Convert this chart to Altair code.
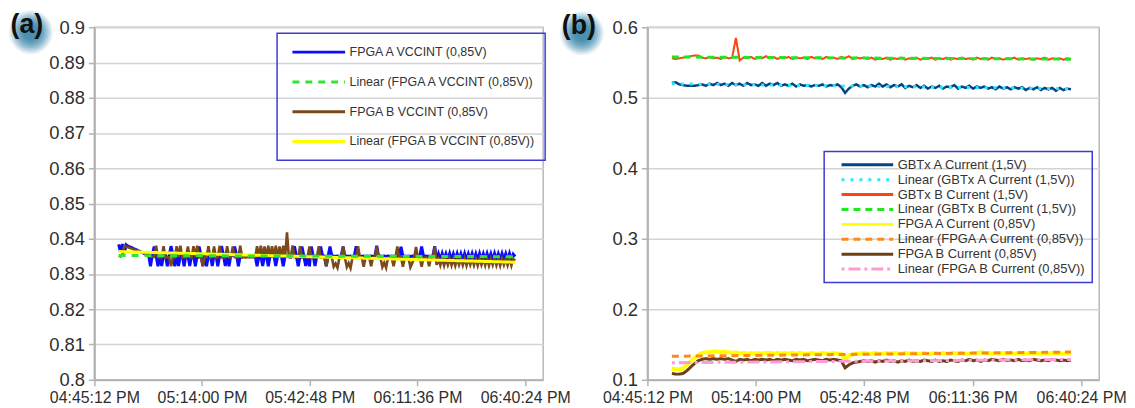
import altair as alt
import numpy as np
import pandas as pd

# ---------------- data ----------------
# sample instants, minutes after 04:45:12 PM
times_a_min = [
    6.5, 7.0, 7.5, 8.0, 8.5, 9.0, 9.5, 10.0, 10.5, 11.0,
    11.5, 12.0, 12.5, 13.0, 13.5, 14.0, 14.5, 15.0, 15.5, 16.0,
    16.5, 17.0, 17.5, 18.0, 18.5, 19.0, 19.5, 20.0, 20.5, 21.0,
    21.5, 22.0, 22.5, 23.0, 23.5, 24.0, 24.5, 25.0, 25.5, 26.0,
    26.5, 27.0, 27.5, 28.0, 28.5, 29.0, 29.5, 30.0, 30.5, 31.0,
    31.5, 32.0, 32.5, 33.0, 33.5, 34.0, 34.5, 35.0, 35.5, 36.0,
    36.5, 37.0, 37.5, 38.0, 38.5, 39.0, 39.5, 40.0, 40.5, 41.0,
    41.5, 42.0, 42.5, 43.0, 43.5, 44.0, 44.5, 45.0, 45.5, 46.0,
    46.5, 47.0, 47.5, 48.0, 48.5, 49.0, 49.5, 50.0, 50.5, 51.0,
    51.5, 52.0, 52.5, 53.0, 53.5, 54.0, 54.5, 55.0, 55.5, 56.0,
    56.5, 57.0, 57.5, 58.0, 58.5, 59.0, 59.5, 60.0, 60.5, 61.0,
    61.5, 62.0, 62.5, 63.0, 63.5, 64.0, 64.5, 65.0, 65.5, 66.0,
    66.5, 67.0, 67.5, 68.0, 68.5, 69.0, 69.5, 70.0, 70.5, 71.0,
    71.5, 72.0, 72.5, 73.0, 73.5, 74.0, 74.5, 75.0, 75.5, 76.0,
    76.5, 77.0, 77.5, 78.0, 78.5, 79.0, 79.5, 80.0, 80.5, 81.0,
    81.5, 82.0, 82.5, 83.0, 83.5, 84.0, 84.5, 85.0, 85.5, 86.0,
    86.5, 87.0, 87.5, 88.0, 88.5, 89.0, 89.5, 90.0, 90.5, 91.0,
    91.5, 92.0, 92.5, 93.0, 93.5, 94.0, 94.5, 95.0, 95.5, 96.0,
    96.5, 97.0, 97.5, 98.0, 98.5, 99.0, 99.5, 100.0, 100.5, 101.0,
    101.5, 102.0, 102.5, 103.0, 103.5, 104.0, 104.5, 105.0, 105.5, 106.0,
    106.5, 107.0, 107.5, 108.0, 108.5, 109.0, 109.5, 110.0, 110.5, 111.0,
    111.5, 112.0, 112.5,
]
times_b_min = [
    6.5, 7.5, 8.5, 9.5, 10.5, 11.5, 12.5, 13.5, 14.5, 15.5,
    16.5, 17.5, 18.5, 19.5, 20.5, 21.5, 22.5, 23.5, 24.5, 25.5,
    26.5, 27.5, 28.5, 29.5, 30.5, 31.5, 32.5, 33.5, 34.5, 35.5,
    36.5, 37.5, 38.5, 39.5, 40.5, 41.5, 42.5, 43.5, 44.5, 45.5,
    46.5, 47.5, 48.5, 49.5, 50.5, 51.5, 52.5, 53.5, 54.5, 55.5,
    56.5, 57.5, 58.5, 59.5, 60.5, 61.5, 62.5, 63.5, 64.5, 65.5,
    66.5, 67.5, 68.5, 69.5, 70.5, 71.5, 72.5, 73.5, 74.5, 75.5,
    76.5, 77.5, 78.5, 79.5, 80.5, 81.5, 82.5, 83.5, 84.5, 85.5,
    86.5, 87.5, 88.5, 89.5, 90.5, 91.5, 92.5, 93.5, 94.5, 95.5,
    96.5, 97.5, 98.5, 99.5, 100.5, 101.5, 102.5, 103.5, 104.5, 105.5,
    106.5, 107.5, 108.5, 109.5, 110.5, 111.5, 112.5,
]

tick_minutes = [0, 28.8, 57.6, 86.4, 115.2]
tick_labels = ["04:45:12 PM", "05:14:00 PM", "05:42:48 PM", "06:11:36 PM", "06:40:24 PM"]

# panel (a): VCCINT voltages
a_fpga_a_vccint = [
    0.8384, 0.8362, 0.8385, 0.8360, 0.8383, 0.8379, 0.8377, 0.8375, 0.8372, 0.8370,
    0.8367, 0.8365, 0.8362, 0.8360, 0.8357, 0.8355, 0.8354, 0.8322, 0.8354, 0.8378,
    0.8353, 0.8322, 0.8354, 0.8323, 0.8353, 0.8354, 0.8322, 0.8353, 0.8379, 0.8354,
    0.8322, 0.8353, 0.8323, 0.8354, 0.8353, 0.8322, 0.8354, 0.8353, 0.8323, 0.8354,
    0.8353, 0.8322, 0.8354, 0.8378, 0.8353, 0.8323, 0.8354, 0.8322, 0.8353, 0.8354,
    0.8323, 0.8353, 0.8354, 0.8322, 0.8353, 0.8379, 0.8354, 0.8323, 0.8353, 0.8322,
    0.8354, 0.8353, 0.8378, 0.8354, 0.8322, 0.8353, 0.8352, 0.8351, 0.8352, 0.8351,
    0.8352, 0.8351, 0.8352, 0.8351, 0.8322, 0.8352, 0.8351, 0.8323, 0.8352, 0.8351,
    0.8322, 0.8352, 0.8351, 0.8352, 0.8323, 0.8351, 0.8352, 0.8351, 0.8322, 0.8352,
    0.8351, 0.8352, 0.8351, 0.8352, 0.8379, 0.8351, 0.8322, 0.8352, 0.8378, 0.8351,
    0.8323, 0.8352, 0.8322, 0.8378, 0.8351, 0.8323, 0.8352, 0.8351, 0.8378, 0.8352,
    0.8351, 0.8322, 0.8351, 0.8378, 0.8350, 0.8351, 0.8350, 0.8351, 0.8350, 0.8351,
    0.8378, 0.8350, 0.8351, 0.8350, 0.8351, 0.8350, 0.8351, 0.8379, 0.8350, 0.8351,
    0.8350, 0.8351, 0.8350, 0.8351, 0.8350, 0.8351, 0.8350, 0.8351, 0.8380, 0.8350,
    0.8351, 0.8350, 0.8351, 0.8350, 0.8351, 0.8350, 0.8351, 0.8350, 0.8351, 0.8350,
    0.8351, 0.8377, 0.8350, 0.8351, 0.8350, 0.8351, 0.8350, 0.8351, 0.8350, 0.8351,
    0.8350, 0.8351, 0.8378, 0.8350, 0.8351, 0.8350, 0.8351, 0.8350, 0.8351, 0.8379,
    0.8340, 0.8357, 0.8339, 0.8358, 0.8341, 0.8357, 0.8340, 0.8358, 0.8339, 0.8357,
    0.8341, 0.8358, 0.8340, 0.8357, 0.8339, 0.8358, 0.8340, 0.8357, 0.8341, 0.8358,
    0.8340, 0.8357, 0.8339, 0.8358, 0.8340, 0.8357, 0.8341, 0.8358, 0.8340, 0.8357,
    0.8339, 0.8358, 0.8340, 0.8357, 0.8341, 0.8358, 0.8340, 0.8357, 0.8339, 0.8358,
    0.8340, 0.8356, 0.8350,
]
a_fpga_b_vccint = [
    0.8352, 0.8350, 0.8355, 0.8380, 0.8378, 0.8376, 0.8374, 0.8372, 0.8370, 0.8368,
    0.8366, 0.8364, 0.8362, 0.8360, 0.8358, 0.8356, 0.8352, 0.8350, 0.8349, 0.8348,
    0.8380, 0.8348, 0.8347, 0.8348, 0.8379, 0.8347, 0.8348, 0.8347, 0.8322, 0.8348,
    0.8347, 0.8379, 0.8348, 0.8380, 0.8347, 0.8348, 0.8347, 0.8378, 0.8348, 0.8347,
    0.8379, 0.8348, 0.8380, 0.8347, 0.8348, 0.8322, 0.8347, 0.8348, 0.8379, 0.8347,
    0.8348, 0.8378, 0.8347, 0.8348, 0.8380, 0.8347, 0.8348, 0.8347, 0.8379, 0.8348,
    0.8347, 0.8378, 0.8348, 0.8347, 0.8348, 0.8380, 0.8347, 0.8348, 0.8347, 0.8348,
    0.8347, 0.8348, 0.8347, 0.8348, 0.8379, 0.8348, 0.8380, 0.8347, 0.8378, 0.8348,
    0.8380, 0.8347, 0.8379, 0.8348, 0.8380, 0.8347, 0.8378, 0.8348, 0.8380, 0.8347,
    0.8418, 0.8348, 0.8347, 0.8381, 0.8348, 0.8347, 0.8348, 0.8379, 0.8347, 0.8348,
    0.8347, 0.8348, 0.8378, 0.8347, 0.8348, 0.8347, 0.8348, 0.8379, 0.8347, 0.8348,
    0.8347, 0.8322, 0.8347, 0.8348, 0.8347, 0.8321, 0.8330, 0.8318, 0.8346, 0.8347,
    0.8378, 0.8346, 0.8320, 0.8331, 0.8317, 0.8346, 0.8347, 0.8346, 0.8379, 0.8346,
    0.8347, 0.8321, 0.8346, 0.8347, 0.8346, 0.8322, 0.8347, 0.8346, 0.8378, 0.8347,
    0.8346, 0.8320, 0.8332, 0.8318, 0.8346, 0.8347, 0.8346, 0.8322, 0.8346, 0.8378,
    0.8346, 0.8347, 0.8321, 0.8346, 0.8347, 0.8346, 0.8319, 0.8331, 0.8346, 0.8377,
    0.8346, 0.8347, 0.8321, 0.8346, 0.8347, 0.8346, 0.8322, 0.8346, 0.8347, 0.8378,
    0.8326, 0.8343, 0.8325, 0.8344, 0.8324, 0.8343, 0.8326, 0.8344, 0.8325, 0.8343,
    0.8324, 0.8344, 0.8326, 0.8343, 0.8325, 0.8344, 0.8324, 0.8343, 0.8326, 0.8344,
    0.8325, 0.8343, 0.8324, 0.8344, 0.8326, 0.8343, 0.8325, 0.8344, 0.8324, 0.8343,
    0.8326, 0.8344, 0.8325, 0.8343, 0.8324, 0.8344, 0.8326, 0.8343, 0.8325, 0.8344,
    0.8324, 0.8343, 0.8338,
]

# panel (b): currents
b_gbtx_a = [
    0.521, 0.522, 0.519, 0.518, 0.517, 0.517, 0.517, 0.518, 0.519, 0.517,
    0.520, 0.518, 0.521, 0.518, 0.520, 0.517, 0.521, 0.518, 0.520, 0.517,
    0.521, 0.518, 0.519, 0.517, 0.521, 0.517, 0.520, 0.518, 0.521, 0.517,
    0.519, 0.517, 0.520, 0.516, 0.519, 0.517, 0.518, 0.516, 0.518, 0.517,
    0.519, 0.516, 0.518, 0.517, 0.519, 0.515, 0.507, 0.513, 0.517, 0.519,
    0.516, 0.518, 0.515, 0.518, 0.516, 0.520, 0.516, 0.519, 0.515, 0.518,
    0.516, 0.519, 0.514, 0.517, 0.515, 0.518, 0.514, 0.517, 0.513, 0.516,
    0.514, 0.517, 0.513, 0.516, 0.515, 0.518, 0.513, 0.516, 0.514, 0.517,
    0.513, 0.516, 0.514, 0.516, 0.513, 0.515, 0.512, 0.516, 0.513, 0.515,
    0.512, 0.515, 0.513, 0.515, 0.511, 0.514, 0.512, 0.515, 0.511, 0.514,
    0.512, 0.514, 0.510, 0.514, 0.511, 0.513, 0.512,
]
b_gbtx_b = [
    0.556, 0.555, 0.556, 0.557, 0.558, 0.559, 0.560, 0.560, 0.557, 0.556,
    0.558, 0.556, 0.557, 0.555, 0.558, 0.556, 0.557, 0.585, 0.553, 0.557,
    0.556, 0.558, 0.555, 0.557, 0.556, 0.559, 0.556, 0.558, 0.555, 0.557,
    0.556, 0.558, 0.555, 0.557, 0.556, 0.557, 0.555, 0.558, 0.556, 0.557,
    0.555, 0.558, 0.556, 0.557, 0.555, 0.558, 0.556, 0.559, 0.555, 0.557,
    0.556, 0.557, 0.555, 0.557, 0.554, 0.556, 0.555, 0.557, 0.554, 0.556,
    0.555, 0.557, 0.554, 0.556, 0.555, 0.557, 0.554, 0.556, 0.555, 0.557,
    0.554, 0.556, 0.555, 0.557, 0.554, 0.556, 0.555, 0.557, 0.555, 0.556,
    0.554, 0.557, 0.555, 0.556, 0.554, 0.557, 0.555, 0.556, 0.554, 0.556,
    0.555, 0.557, 0.554, 0.556, 0.555, 0.556, 0.554, 0.556, 0.555, 0.557,
    0.554, 0.556, 0.555, 0.556, 0.554, 0.556, 0.555,
]
b_fpga_a = [
    0.116, 0.115, 0.115, 0.116, 0.121, 0.126, 0.131, 0.135, 0.138, 0.139,
    0.139, 0.140, 0.140, 0.139, 0.140, 0.139, 0.138, 0.139, 0.137, 0.138,
    0.137, 0.138, 0.137, 0.138, 0.137, 0.138, 0.138, 0.137, 0.138, 0.137,
    0.138, 0.137, 0.138, 0.137, 0.138, 0.137, 0.137, 0.138, 0.137, 0.137,
    0.138, 0.137, 0.137, 0.138, 0.137, 0.137, 0.129, 0.134, 0.136, 0.137,
    0.137, 0.138, 0.137, 0.137, 0.138, 0.137, 0.137, 0.138, 0.137, 0.138,
    0.137, 0.137, 0.138, 0.137, 0.138, 0.137, 0.137, 0.138, 0.137, 0.137,
    0.138, 0.137, 0.138, 0.137, 0.137, 0.138, 0.137, 0.138, 0.137, 0.137,
    0.138, 0.138, 0.139, 0.138, 0.138, 0.137, 0.138, 0.137, 0.138, 0.137,
    0.138, 0.137, 0.138, 0.137, 0.137, 0.138, 0.137, 0.138, 0.137, 0.138,
    0.137, 0.138, 0.137, 0.138, 0.137, 0.138, 0.137,
]
b_fpga_b = [
    0.109, 0.108, 0.108, 0.109, 0.113, 0.118, 0.123, 0.127, 0.129, 0.130,
    0.129, 0.130, 0.129, 0.130, 0.129, 0.130, 0.128, 0.126, 0.129, 0.128,
    0.129, 0.127, 0.129, 0.128, 0.129, 0.128, 0.129, 0.127, 0.129, 0.128,
    0.129, 0.128, 0.127, 0.129, 0.128, 0.129, 0.127, 0.128, 0.129, 0.128,
    0.127, 0.129, 0.128, 0.129, 0.128, 0.127, 0.117, 0.121, 0.124, 0.125,
    0.126, 0.127, 0.126, 0.127, 0.125, 0.127, 0.126, 0.128, 0.126, 0.127,
    0.125, 0.127, 0.126, 0.128, 0.126, 0.127, 0.126, 0.128, 0.127, 0.126,
    0.128, 0.126, 0.127, 0.126, 0.128, 0.127, 0.126, 0.128, 0.127, 0.129,
    0.127, 0.128, 0.126, 0.128, 0.127, 0.129, 0.128, 0.127, 0.129, 0.127,
    0.128, 0.127, 0.129, 0.127, 0.128, 0.127, 0.129, 0.128, 0.127, 0.128,
    0.127, 0.129, 0.128, 0.127, 0.128, 0.127, 0.128,
]

a_raw_names = ["FPGA A VCCINT (0,85V)", "FPGA B VCCINT (0,85V)"]
a_legend_names = [
    "FPGA A VCCINT (0,85V)", "Linear (FPGA A VCCINT (0,85V))",
    "FPGA B VCCINT (0,85V)", "Linear (FPGA B VCCINT (0,85V))",
]
b_raw_names = ["GBTx A Current (1,5V)", "GBTx B Current (1,5V)",
               "FPGA A Current (0,85V)", "FPGA B Current (0,85V)"]
b_legend_names = [
    "GBTx A Current (1,5V)", "Linear (GBTx A Current (1,5V))",
    "GBTx B Current (1,5V)", "Linear (GBTx B Current (1,5V))",
    "FPGA A Current (0,85V)", "Linear (FPGA A Current (0,85V))",
    "FPGA B Current (0,85V)", "Linear (FPGA B Current (0,85V))",
]
a_y_ticks = [0.8, 0.81, 0.82, 0.83, 0.84, 0.85, 0.86, 0.87, 0.88, 0.89, 0.9]
b_y_ticks = [0.1, 0.2, 0.3, 0.4, 0.5, 0.6]

# ---------------- styles ----------------
FONT = "Liberation Sans"
a_colors = ["#0b0bff", "#2fe52f", "#7b4a1c", "#ffff00"]
a_dashes = [[1, 0], [7, 6], [1, 0], [1, 0]]
b_colors = ["#004586", "#2ee6ff", "#ff420e", "#22e622",
            "#ffff00", "#ff8a1a", "#6b4018", "#ff9ad6"]
b_dashes = [[1, 0], [3, 6], [1, 0], [7, 5], [1, 0], [7, 5], [1, 0], [3, 4, 12, 4]]


def label_expr(vals, labels):
    expr = "''"
    for v, l in reversed(list(zip(vals, labels))):
        expr = f"abs(datum.value - {v}) < 0.01 ? '{l}' : ({expr})"
    return expr


def tag_layers(tag, cx, cy, tx, ty):
    layers = []
    one = pd.DataFrame({"tag": [tag]})
    for r, op in [(22, 0.12), (20, 0.15), (18, 0.18), (16, 0.2),
                  (14, 0.22), (12, 0.24), (10, 0.25), (8, 0.25)]:
        layers.append(
            alt.Chart(one).mark_circle(size=(2 * r) ** 2, color="#2a7ca4", opacity=op)
            .encode(x=alt.value(cx), y=alt.value(cy))
        )
    layers.append(
        alt.Chart(one).mark_text(font=FONT, fontWeight="bold", fontSize=27,
                                 color="#111111", align="center", baseline="middle")
        .encode(x=alt.value(tx), y=alt.value(ty), text="tag:N")
    )
    return layers


def build_frame(times, raw_names, raw_values, legend_names):
    rows = []
    for k, (nm, vals) in enumerate(zip(raw_names, raw_values)):
        for t, v in zip(times, vals, strict=True):
            rows.append({"series": nm, "t": t, "v": v})
        # least-squares linear trend of the series (the "Linear (...)" lines)
        slope, icpt = np.polyfit(np.array(times), np.array(vals), 1)
        lin_name = legend_names[2 * k + 1]
        for t in (min(times), max(times)):
            rows.append({"series": lin_name, "t": t, "v": float(icpt + slope * t)})
    return pd.DataFrame(rows)


def panel(df, legend_names, colors, dashes, draw, ydomain, yticks, legend_kw,
          width, height, tag):
    legend = alt.Legend(**legend_kw)
    x = alt.X("t:Q", scale=alt.Scale(domain=[0, 120], nice=False, zero=False),
              axis=alt.Axis(values=tick_minutes, labelExpr=label_expr(tick_minutes, tick_labels),
                            title=None, grid=False, labelFlush=False, labelOverlap=False,
                            tickSize=6, labelPadding=4, labelFontSize=16))
    y = alt.Y("v:Q", scale=alt.Scale(domain=ydomain, nice=False, zero=False),
              axis=alt.Axis(values=yticks, format="~g", title=None, grid=True,
                            labelFlush=False, labelOverlap=False, tickSize=6,
                            labelPadding=4, labelFontSize=18.5))
    color = alt.Color("series:N", scale=alt.Scale(domain=legend_names, range=colors), legend=legend)
    dash = alt.StrokeDash("series:N", scale=alt.Scale(domain=legend_names, range=dashes), legend=legend)

    layers = []
    for name, w in draw:
        layers.append(
            alt.Chart(df).transform_filter(alt.datum.series == name)
            .mark_line(strokeWidth=w, strokeJoin="miter", strokeCap="butt")
            .encode(x=x, y=y, color=color, strokeDash=dash)
        )
    layers += tag
    return alt.layer(*layers).properties(width=width, height=height)


df_a = build_frame(times_a_min, a_raw_names, [a_fpga_a_vccint, a_fpga_b_vccint], a_legend_names)
df_b = build_frame(times_b_min, b_raw_names, [b_gbtx_a, b_gbtx_b, b_fpga_a, b_fpga_b],
                   b_legend_names)

a_draw = [
    (a_legend_names[0], 3.0),
    (a_legend_names[2], 2.6),
    (a_legend_names[3], 3.0),
    (a_legend_names[1], 3.0),
]
b_draw = [
    (b_legend_names[0], 2.5),
    (b_legend_names[2], 2.0),
    (b_legend_names[4], 4.0),
    (b_legend_names[6], 3.0),
    (b_legend_names[1], 3.0),
    (b_legend_names[3], 3.0),
    (b_legend_names[5], 3.0),
    (b_legend_names[7], 3.0),
]

common_legend = dict(orient="none", title=None, direction="vertical", symbolType="stroke",
                     symbolStrokeWidth=3, strokeColor="#3c3cd2", labelFontSize=13,
                     labelFont=FONT, labelColor="#333333", labelLimit=320, labelOffset=3)

panel_a = panel(df_a, a_legend_names, a_colors, a_dashes, a_draw, [0.8, 0.9], a_y_ticks,
                dict(common_legend, legendX=184, legendY=6, symbolSize=2809, clipHeight=18,
                     rowPadding=12, padding=10, symbolOffset=4, labelFontSize=12.5),
                452, 355, tag_layers("(a)", -64, 5, -68, -2))

panel_b = panel(df_b, b_legend_names, b_colors, b_dashes, b_draw, [0.1, 0.6], b_y_ticks,
                dict(common_legend, legendX=178, legendY=125, symbolSize=2704, clipHeight=15,
                     rowPadding=0, padding=6, symbolOffset=10),
                455, 355, tag_layers("(b)", -66, 6, -69, -1))

chart = (
    alt.hconcat(panel_a, panel_b, spacing=105, bounds="flush")
    .resolve_scale(color="independent", strokeDash="independent")
    .resolve_legend(color="independent", strokeDash="independent")
    .properties(padding=0, background="white")
    .configure_view(stroke="#b8b8b8", strokeWidth=1.5)
    .configure_axis(domainColor="#b3b3b3", domainWidth=2, gridColor="#d4d4d4", gridWidth=1.5,
                    tickColor="#b3b3b3", tickWidth=1.5, labelFont=FONT, labelColor="#2e2e2e")
    .configure_legend(strokeWidth=1.5)
)

chart.save("out.html", embed_options={"renderer": "svg", "actions": False})
